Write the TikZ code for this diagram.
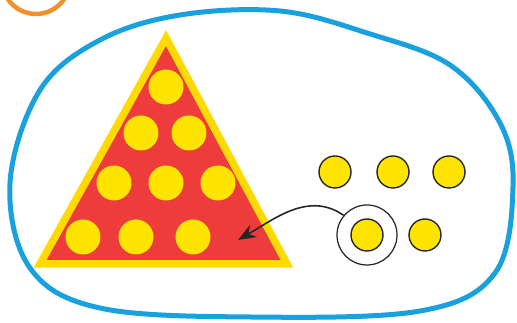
\documentclass[tikz,border=0pt]{standalone}
\usepackage{tikz}
\usetikzlibrary{arrows.meta}
\definecolor{blobblue}{RGB}{25,160,222}
\definecolor{badgeorange}{RGB}{240,145,45}
\definecolor{pilered}{RGB}{238,60,60}
\definecolor{dotyellow}{RGB}{255,228,0}
\definecolor{rimyellow}{RGB}{255,218,0}
\tikzset{
    badge/.style={circle, draw=badgeorange, line width=0.09cm, minimum size=1.36cm, inner sep=0pt},
    blob/.style={draw=blobblue, line width=0.1cm},
    pile/.style={fill=pilered, draw=rimyellow, line width=0.15cm, line join=miter},
    dot/.style={circle, fill=dotyellow, minimum size=0.7cm, inner sep=0pt},
    counter/.style={circle, fill=dotyellow, draw=black!85, line width=0.8pt, minimum size=0.64cm, inner sep=0pt},
    ring/.style={circle, draw=black!85, line width=0.7pt, minimum size=1.2cm, inner sep=0pt},
    arrow/.style={line width=0.9pt, draw=black!85, -{Stealth[length=3.6mm, width=2.8mm, inset=1.2mm]}}
}

\begin{document}
\begin{tikzpicture}[x=0.02cm, y=0.02cm]
    \useasboundingbox (0,0) rectangle (517,323);
    \node (badge) [badge] at (36,343) {};

    % outline of the set
    \draw [blob] plot [smooth cycle, tension=0.6] coordinates {(40,233) (100,283) (180,308) (280,312) (367,290) (450,258) (500,200) (513,136) (495,50) (420,12) (250,6) (100,15) (30,55) (10,140)};

    % the pile
    \draw [pile] (166,285) -- (287,59) -- (40,59) -- cycle;
    \node (p1) [dot] at (166,236) {};
    \node (p2) [dot] at (141,190) {};
    \node (p3) [dot] at (189,190) {};
    \node (p4) [dot] at (114,140) {};
    \node (p5) [dot] at (166,140) {};
    \node (p6) [dot] at (218,140) {};
    \node (p7) [dot] at (83,86) {};
    \node (p8) [dot] at (136,86) {};
    \node (p9) [dot] at (193,86) {};
    \coordinate (target) at (238,83);

    % loose counters
    \node (c1) [counter] at (335,151) {};
    \node (c2) [counter] at (393,151) {};
    \node (c3) [counter] at (449,151) {};
    \node (c4) [counter] at (367,88) {};
    \node (c5) [counter] at (425,88) {};
    \node (pick) [ring] at (c4) {};

    \draw [arrow] (pick.140) to[out=145, in=30] (target);
\end{tikzpicture}
\end{document}
